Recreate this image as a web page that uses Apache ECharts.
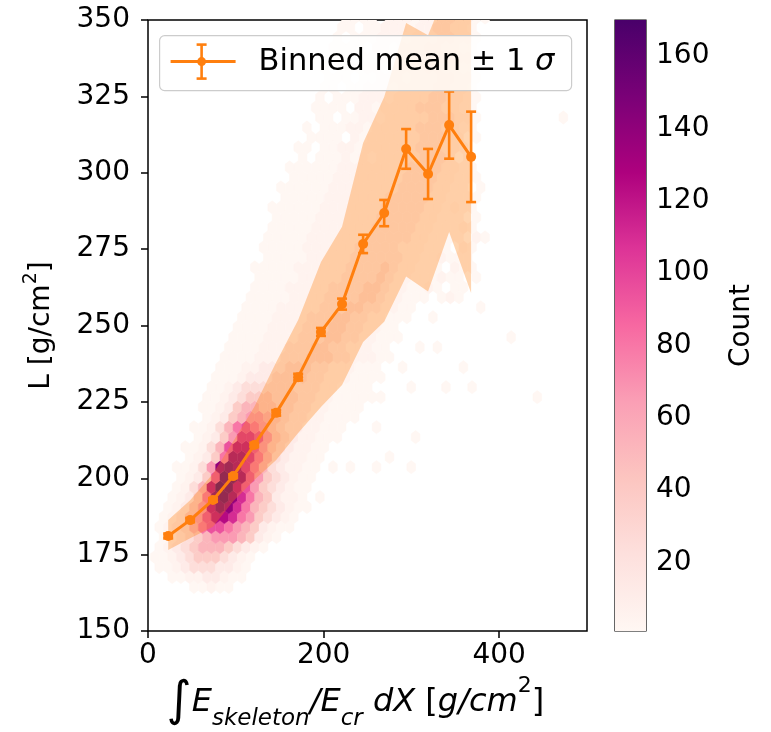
<!DOCTYPE html>
<html><head><meta charset="utf-8">
<script src="https://cdn.jsdelivr.net/npm/echarts@6/dist/echarts.min.js"></script>
<style>html,body{margin:0;padding:0;background:#fff;} #c{width:771px;height:732px;}</style>
</head><body><div id="c"></div>
<script>
// ---------- data ----------
const X_TICKS = [0, 200, 400];
const Y_TICKS = [150, 175, 200, 225, 250, 275, 300, 325, 350];
const CBAR_TICKS = [20, 40, 60, 80, 100, 120, 140, 160];
const COUNT_MIN = 1, COUNT_MAX = 170;

const BIN_X     = [23, 48, 74, 97, 121, 146, 171, 197, 221, 245, 269, 294, 319, 343, 368];
const BIN_MEAN  = [181.1, 186.3, 192.9, 200.7, 210.9, 221.4, 233.1, 247.9, 257.0, 276.7, 286.8, 307.8, 299.6, 315.6, 305.2];
const BIN_ERR   = [0.8, 0.7, 0.6, 0.6, 0.7, 0.9, 1.1, 1.3, 1.8, 3.0, 4.3, 6.5, 8.2, 11.0, 14.8];
const BAND_UPPER = [186.3, 192.8, 201.5, 212.0, 223.3, 238.0, 251.8, 270.8, 282.3, 309.7, 324.8, 349.0, 345.0, 362.0, 358.0];
const BAND_LOWER = [176.5, 180.4, 184.1, 192.5, 199.4, 206.0, 214.8, 223.3, 230.5, 244.6, 251.2, 266.0, 261.1, 280.6, 260.6];

// hexbin counts: one string per hex row (bottom row first), one char per hex column
// '.' = empty cell, other chars = count level (see COUNT_LEVELS)
const COUNT_LEVELS = {'1':1,'2':5,'3':12,'4':24,'5':38,'6':52,'7':66,'8':80,'9':95,'a':110,'b':124,'c':138,'d':150,'e':160,'f':169};
const HEX_ROWS = [
  ".....11211",
  "..112233211",
  ".11234443321",
  "112345554321",
  ".1234566654321",
  ".12345677765321",
  ".1234689987653211",
  ".123579bba8754321",
  "..12357bdca86543211",
  "..12358deca8653221.1",
  "...1246bfeb97543211",
  "...12359eec97543211",
  "...11247cdca86432211.1.1..1...1",
  "....12358cca86432211.......1",
  "....112469bb975432211",
  ".....12357aa9754322111........1",
  ".....112468987543322111...1",
  "......123567765433221111",
  "......1123566554433221111",
  "......112345554443322111111.................1",
  ".......1123444444333221111....1...1..1",
  ".......11123334444332221111",
  "........1112233344433222111..1......1",
  "........11112223334443322211",
  ".........1111222333443322211...1.1",
  ".........11112222333443322111............1",
  "..........1111222233344332211",
  "..........11112222333443322111..1",
  "...........11112222233344332211.......1",
  "...........111112222333344322111.121",
  "............1111222223333443221121.11",
  "............111112222233334322111211.1",
  "............1111122222233334322111.211",
  ".............111112222233333322112111.",
  ".............1111122222233333222111.21",
  ".............11111222222233333221111.21",
  "..............111112222222333332211121",
  "..............1111122222223333322111.1",
  "..............111111222222233333221211",
  "...............11111222222233333221111",
  "...............1111112222222233332211.1",
  "................1111122222222333322111",
  "................1111112222222233332211",
  ".................1.1112121222223332.1",
  ".................11.11221222222333221",
  "..................1111.2122222233322.1",
  "..................1.111221222223332211",
  "...................11.1122122222333221.........1",
  "...................1111.22122223332211",
  "...................1.11122212222332211",
  "....................11.112221222233221",
  "....................111.11222122233221",
  "....................1.1112212222332211",
  ".....................11.11222122233221",
  ".....................1111.221222332211",
  ".....................1.111222122233221",
  "......................11.1122212233221",
  "......................1111.222122332211"
];
// hex lattice of the hexbin (matplotlib layout)
const HEX_W = 9.9, HEX_SY = 6.54, HEX_Y_START = 164.4, HEX_X0_EVEN = 2.8, HEX_X0_ODD = 7.75;

const RDPU = ['#fff7f3','#fde0dd','#fcc5c0','#fa9fb5','#f768a1','#dd3497','#ae017e','#7a0177','#49006a'];
const ORANGE = '#ff7f0e';
const FONT = 'DejaVu Sans';

// ---------- build hex data ----------
const hexData = [];
HEX_ROWS.forEach((row, i) => {
  const y = HEX_Y_START + i * HEX_SY / 2;
  const x0 = (i % 2 === 0) ? HEX_X0_EVEN : HEX_X0_ODD;
  for (let k = 0; k < row.length; k++) {
    const ch = row[k];
    if (ch === '.') continue;
    hexData.push([x0 + k * HEX_W, y, COUNT_LEVELS[ch]]);
  }
});
const binData = BIN_X.map((x, i) => [x, BIN_MEAN[i], BIN_ERR[i], BAND_LOWER[i], BAND_UPPER[i]]);

const chart = echarts.init(document.getElementById('c'), null, {renderer: 'canvas'});
const axisText = {fontFamily: FONT, fontSize: 28, color: '#000'};

const option = {
  backgroundColor: '#fff',
  animation: false,
  grid: [
    {left: 148, right: 184, top: 20, bottom: 101, show: true, borderColor: '#000', borderWidth: 1.5,
     backgroundColor: 'transparent', containLabel: false, outerBoundsMode: 'none'},
    {left: 615, width: 31, top: 20, bottom: 101, show: true, borderColor: '#000', borderWidth: 1.2,
     backgroundColor: 'transparent', containLabel: false, outerBoundsMode: 'none'}
  ],
  xAxis: [
    {type: 'value', gridIndex: 0, min: 0, max: 500,
     axisLine: {show: false}, splitLine: {show: false},
     axisTick: {length: 7, lineStyle: {color: '#000', width: 1.5}, customValues: X_TICKS},
     axisLabel: Object.assign({margin: 11, customValues: X_TICKS}, axisText),
     name: '{int|∫}{it|E}{sub|skeleton}{it|/E}{sub|cr}{it| dX }{rm|[}{it|g/cm}{sup|2}{rm|]}',
     nameLocation: 'middle', nameGap: 43,
     nameTextStyle: {fontFamily: FONT, fontSize: 32, color: '#000', padding: [0, 24, 0, 0],
       rich: {
         int: {fontFamily: FONT, fontSize: 48, color: '#000', lineHeight: 56, verticalAlign: 'middle'},
         it: {fontFamily: FONT, fontSize: 32, fontStyle: 'italic', color: '#000', lineHeight: 56, verticalAlign: 'middle'},
         rm: {fontFamily: FONT, fontSize: 32, color: '#000', lineHeight: 56, verticalAlign: 'middle'},
         sub: {fontFamily: FONT, fontSize: 23, fontStyle: 'italic', color: '#000', lineHeight: 44, verticalAlign: 'bottom'},
         sup: {fontFamily: FONT, fontSize: 22, color: '#000', lineHeight: 40, verticalAlign: 'top'}
       }}},
    {type: 'value', gridIndex: 1, min: 0, max: 1, show: false}
  ],
  yAxis: [
    {type: 'value', gridIndex: 0, min: 150, max: 350, interval: 25,
     axisLine: {show: false}, splitLine: {show: false},
     axisTick: {length: 7, lineStyle: {color: '#000', width: 1.5}},
     axisLabel: Object.assign({margin: 18}, axisText),
     name: '{rm|L [g/cm}{sup|2}{rm|]}', nameLocation: 'middle', nameGap: 86,
     nameTextStyle: {fontFamily: FONT, fontSize: 28, color: '#000',
       rich: {
         rm: {fontFamily: FONT, fontSize: 28, color: '#000', lineHeight: 40, verticalAlign: 'middle'},
         sup: {fontFamily: FONT, fontSize: 19, color: '#000', lineHeight: 28, verticalAlign: 'top'}
       }}},
    {type: 'value', gridIndex: 1, position: 'right', min: COUNT_MIN, max: COUNT_MAX,
     axisLine: {show: false}, splitLine: {show: false},
     axisTick: {length: 7, lineStyle: {color: '#000', width: 1.3}, customValues: CBAR_TICKS},
     axisLabel: Object.assign({margin: 10, customValues: CBAR_TICKS}, axisText),
     name: 'Count', nameLocation: 'middle', nameGap: 82, nameRotate: 90,
     nameTextStyle: {fontFamily: FONT, fontSize: 28, color: '#000'}}
  ],
  visualMap: [{
    type: 'continuous', show: false, seriesIndex: 0, dimension: 2,
    min: COUNT_MIN, max: COUNT_MAX, inRange: {color: RDPU}
  }],
  series: [
    { // hexbin
      type: 'custom', xAxisIndex: 0, yAxisIndex: 0, clip: true, z: 1,
      data: hexData,
      renderItem: function (params, api) {
        const c = api.coord([api.value(0), api.value(1)]);
        const s = api.size([HEX_W, HEX_SY]);
        const w = s[0] / 2, h1 = s[1] / 6, h2 = s[1] / 3;
        const col = api.visual('color');
        return {type: 'polygon',
          shape: {points: [[c[0]+w, c[1]+h1], [c[0]+w, c[1]-h1], [c[0], c[1]-h2], [c[0]-w, c[1]-h1], [c[0]-w, c[1]+h1], [c[0], c[1]+h2]]},
          style: {fill: col, stroke: col, lineWidth: 0.5}};
      }
    },
    { // +-1 sigma band
      type: 'custom', xAxisIndex: 0, yAxisIndex: 0, clip: true, z: 2,
      data: binData,
      renderItem: function (params, api) {
        if (params.dataIndex !== 0) return null;
        const up = BIN_X.map((x, i) => api.coord([x, BAND_UPPER[i]]));
        const lo = BIN_X.map((x, i) => api.coord([x, BAND_LOWER[i]])).reverse();
        return {type: 'polygon', shape: {points: up.concat(lo)},
          style: {fill: ORANGE, opacity: 0.33}};
      }
    },
    { // error bars
      type: 'custom', xAxisIndex: 0, yAxisIndex: 0, clip: true, z: 3,
      data: binData,
      renderItem: function (params, api) {
        const x = api.value(0), m = api.value(1), e = api.value(2);
        const a = api.coord([x, m - e]), b = api.coord([x, m + e]);
        const cw = 5;
        const st = {stroke: ORANGE, lineWidth: 2.6};
        return {type: 'group', children: [
          {type: 'line', shape: {x1: a[0], y1: a[1], x2: b[0], y2: b[1]}, style: st},
          {type: 'line', shape: {x1: a[0]-cw, y1: a[1], x2: a[0]+cw, y2: a[1]}, style: st},
          {type: 'line', shape: {x1: b[0]-cw, y1: b[1], x2: b[0]+cw, y2: b[1]}, style: st}
        ]};
      }
    },
    { // binned mean
      type: 'line', xAxisIndex: 0, yAxisIndex: 0, z: 4,
      data: binData.map(d => [d[0], d[1]]),
      symbol: 'circle', symbolSize: 10, showSymbol: true,
      lineStyle: {color: ORANGE, width: 3}, itemStyle: {color: ORANGE}
    },
    { // colorbar
      type: 'custom', xAxisIndex: 1, yAxisIndex: 1, z: 1,
      data: [[0, COUNT_MIN, COUNT_MAX]],
      renderItem: function (params, api) {
        const p0 = api.coord([0, api.value(1)]);
        const p1 = api.coord([1, api.value(2)]);
        const stops = RDPU.map((c, i) => ({offset: i / (RDPU.length - 1), color: c}));
        return {type: 'rect', shape: {x: p0[0], y: p1[1], width: p1[0] - p0[0], height: p0[1] - p1[1]},
          style: {fill: new echarts.graphic.LinearGradient(0, 1, 0, 0, stops)}};
      }
    }
  ],
  graphic: [{
    type: 'group', left: 159, top: 35, z: 100, zlevel: 1,
    children: [
      {type: 'rect', z: 100, shape: {x: 0, y: 0, width: 412, height: 55, r: 5},
       style: {fill: 'rgba(255,255,255,0.8)', stroke: '#cccccc', lineWidth: 1.2}},
      {type: 'line', z: 101, shape: {x1: 11, y1: 26, x2: 76, y2: 26}, style: {stroke: ORANGE, lineWidth: 3}},
      {type: 'line', z: 101, shape: {x1: 42, y1: 9, x2: 42, y2: 43}, style: {stroke: ORANGE, lineWidth: 2.6}},
      {type: 'line', z: 101, shape: {x1: 37, y1: 9, x2: 47, y2: 9}, style: {stroke: ORANGE, lineWidth: 2.6}},
      {type: 'line', z: 101, shape: {x1: 37, y1: 43, x2: 47, y2: 43}, style: {stroke: ORANGE, lineWidth: 2.6}},
      {type: 'circle', z: 102, shape: {cx: 42, cy: 26, r: 4.5}, style: {fill: ORANGE}},
      {type: 'text', z: 102, x: 99, y: 26,
       style: {text: '{n|Binned mean ± 1 }{s|σ}', verticalAlign: 'middle', fill: '#000',
         rich: {n: {fontFamily: FONT, fontSize: 30.5, fill: '#000'}, s: {fontFamily: FONT, fontSize: 30.5, fontStyle: 'italic', fill: '#000'}}}}
    ]
  }]
};
chart.setOption(option);
</script>
</body></html>
